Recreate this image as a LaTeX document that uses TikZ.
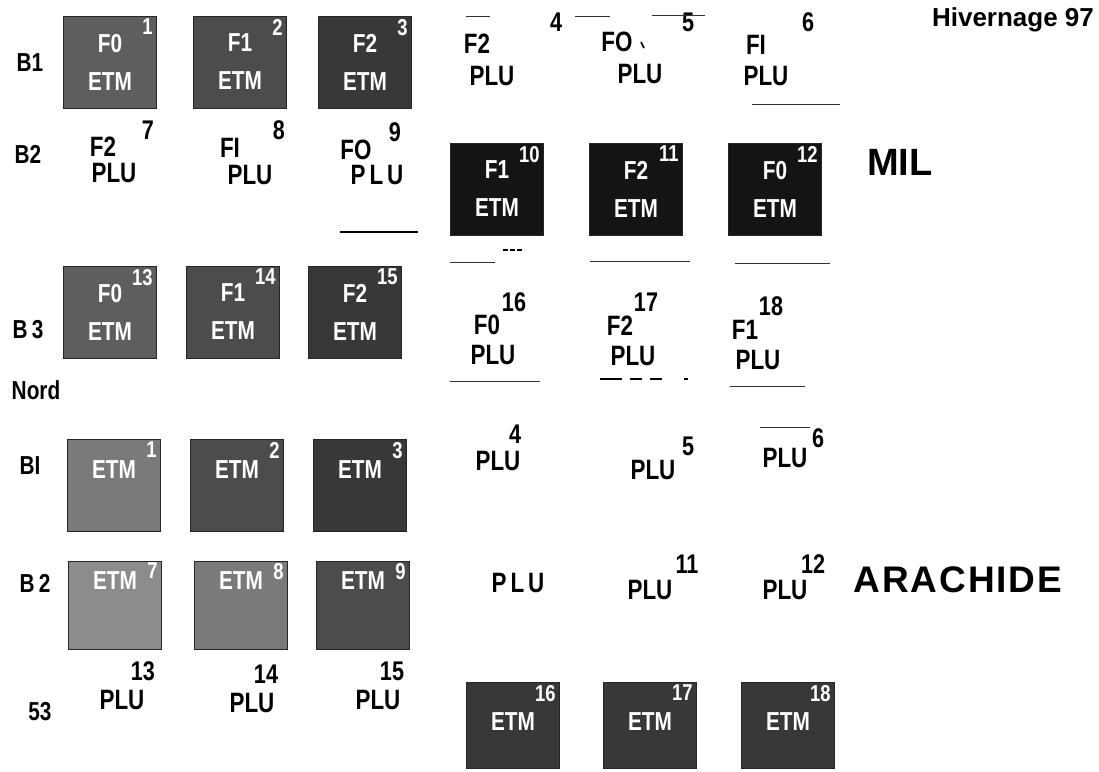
\documentclass[tikz,border=0pt]{standalone}
\usepackage{fontspec}
\setmainfont{Liberation Sans}
\newfontfamily\condfont[FakeStretch=0.8]{Liberation Sans}
\usepackage{xcolor}
\usepackage{tikz}
\usetikzlibrary{positioning}
\definecolor{etmA}{HTML}{5E5E5E}
\definecolor{etmB}{HTML}{4C4C4C}
\definecolor{etmC}{HTML}{383838}
\definecolor{etmD}{HTML}{141414}
\definecolor{etmE}{HTML}{7A7A7A}
\definecolor{etmF}{HTML}{8C8C8C}

\begin{document}
\begin{tikzpicture}[x=1pt,y=-1pt,
    etm/.style={draw=black!85,fill=#1,minimum width=93pt,minimum height=92pt,inner sep=0pt},
    etmtext/.style={text=white,font=\condfont\bfseries\fontsize{26}{26}\selectfont,align=center,inner sep=0pt},
    boxnum/.style={text=white,font=\condfont\bfseries\fontsize{23}{23}\selectfont,inner sep=0pt,anchor=north east},
    num/.style={font=\condfont\bfseries\fontsize{27}{27}\selectfont,inner sep=0pt},
    plu/.style={font=\condfont\bfseries\fontsize{28}{28}\selectfont,inner sep=0pt},
    rowlab/.style={font=\condfont\bfseries\fontsize{26}{26}\selectfont,inner sep=0pt},
    title/.style={font=\bfseries\fontsize{#1}{#1}\selectfont,inner sep=0pt},
    scanline/.style={line width=0.7pt,black!80}]
  \useasboundingbox[fill=white] (0,0) rectangle (1099,771);

  % --- MIL ---
  \node[title=26] (hiv) at (1013,20) {Hivernage 97};
  \node[title=38] (mil) at (900,162) {MIL};

  % B1
  \node[rowlab] (b1) at (30,63) {B1};
  \foreach \x/\c/\f/\n in {110/etmA/F0/1,240/etmB/F1/2,365/etmC/F2/3}{
    \node[etm=\c] (m\n) at (\x,62) {};
    \node[etmtext] (m\n t) at (m\n) {\f\\[12pt]ETM};
    \node[boxnum] (m\n n) at ([shift={(-4pt,-3pt)}]m\n.north east) {\n};
  }
  \node[plu] (m4f) at (477,44) {F2};
  \node[plu] (m4) at (492,76) {PLU};
  \node[num] (m4n) at (556,22) {4};
  \node[plu] (m5f) at (617,42) {FO};
  \node[plu] (m5) at (640,74) {PLU};
  \node[num] (m5n) at (688,22) {5};
  \draw[line width=1.6pt] (641,42) -- (644,48);
  \node[plu] (m6f) at (756,45) {FI};
  \node[plu] (m6) at (766,76) {PLU};
  \node[num] (m6n) at (808,22) {6};
  \draw[scanline] (466,16) -- (490,16);
  \draw[scanline] (575,16) -- (610,16);
  \draw[scanline] (652,15) -- (705,15);
  \draw[scanline] (752,104) -- (840,104);

  % B2
  \node[rowlab] (b2) at (28,154) {B2};
  \node[plu] (m7f) at (103,147) {F2};
  \node[plu] (m7) at (114,173) {PLU};
  \node[num] (m7n) at (148,130) {7};
  \node[plu] (m8f) at (230,148) {FI};
  \node[plu] (m8) at (250,175) {PLU};
  \node[num] (m8n) at (279,130) {8};
  \node[plu] (m9f) at (356,150) {FO};
  \node[plu] (m9) at (377,175) {P\hspace{4pt}L\hspace{4pt}U};
  \node[num] (m9n) at (395,132) {9};
  \draw[line width=1.2pt] (340,232) -- (418,232);
  \foreach \x/\f/\n in {497/F1/10,636/F2/11,775/F0/12}{
    \node[etm=etmD] (m\n) at (\x,189) {};
    \node[etmtext] (m\n t) at (m\n) {\f\\[12pt]ETM};
    \node[boxnum] (m\n n) at ([shift={(-4pt,-3pt)}]m\n.north east) {\n};
  }
  \draw[line width=2pt,dash pattern=on 5pt off 2pt] (503,250) -- (524,250);

  % B3
  \node[rowlab] (b3) at (28,330) {B\,3};
  \foreach \x/\c/\f/\n in {110/etmA/F0/13,233/etmB/F1/14,355/etmC/F2/15}{
    \node[etm=\c] (m\n) at (\x,312) {};
    \node[etmtext] (m\n t) at (m\n) {\f\\[12pt]ETM};
    \node[boxnum] (m\n n) at ([shift={(-4pt,-3pt)}]m\n.north east) {\n};
  }
  \node[plu] (m16f) at (487,325) {F0};
  \node[plu] (m16) at (493,355) {PLU};
  \node[num] (m16n) at (514,302) {16};
  \node[plu] (m17f) at (620,326) {F2};
  \node[plu] (m17) at (633,356) {PLU};
  \node[num] (m17n) at (646,302) {17};
  \node[plu] (m18f) at (745,330) {F1};
  \node[plu] (m18) at (758,360) {PLU};
  \node[num] (m18n) at (771,306) {18};
  \draw[scanline] (450,262) -- (495,262);
  \draw[scanline] (590,261) -- (690,261);
  \draw[scanline] (735,263) -- (830,263);
  \draw[scanline] (450,381) -- (540,381);
  \draw[line width=2pt,dash pattern=on 22pt off 8pt on 12pt off 8pt on 12pt] (600,379) -- (688,379);
  \draw[scanline] (730,386) -- (805,386);

  \node[rowlab] (nord) at (36,390) {Nord};

  % --- ARACHIDE ---
  \node[title=37] (ara) at (958,580) {\addfontfeature{LetterSpace=5}ARACHIDE};

  % BI
  \node[rowlab] (a1l) at (30,466) {BI};
  \foreach \x/\c/\n in {114/etmE/1,237/etmB/2,360/etmC/3}{
    \node[etm=\c] (a\n) at (\x,485) {};
    \node[etmtext] (a\n t) at ([yshift=15pt]a\n.center) {ETM};
    \node[boxnum] (a\n n) at ([shift={(-4pt,-3pt)}]a\n.north east) {\n};
  }
  \node[plu] (a4) at (498,461) {PLU};
  \node[num] (a4n) at (515,434) {4};
  \node[plu] (a5) at (653,470) {PLU};
  \node[num] (a5n) at (688,446) {5};
  \node[plu] (a6) at (785,458) {PLU};
  \node[num] (a6n) at (818,438) {6};
  \draw[scanline] (760,427) -- (810,427);

  % B2
  \node[rowlab] (a2l) at (35,583) {B\,2};
  \foreach \x/\c/\n in {115/etmF/7,241/etmE/8,363/etmB/9}{
    \node[etm=\c,minimum height=88pt] (a\n) at (\x,605) {};
    \node[etmtext] (a\n t) at ([yshift=24pt]a\n.center) {ETM};
    \node[boxnum] (a\n n) at ([shift={(-4pt,-2pt)}]a\n.north east) {\n};
  }
  \node[plu] (a10) at (518,583) {P\hspace{4pt}L\hspace{4pt}U};
  \node[plu] (a11) at (650,590) {PLU};
  \node[num] (a11n) at (687,564) {11};
  \node[plu] (a12) at (785,590) {PLU};
  \node[num] (a12n) at (813,564) {12};

  % 53
  \node[rowlab] (a3l) at (40,712) {53};
  \node[plu] (a13) at (122,700) {PLU};
  \node[num] (a13n) at (143,671) {13};
  \node[plu] (a14) at (252,703) {PLU};
  \node[num] (a14n) at (266,674) {14};
  \node[plu] (a15) at (378,700) {PLU};
  \node[num] (a15n) at (392,671) {15};
  \foreach \x/\c/\n in {513/etmC/16,650/etmC/17,788/etmC/18}{
    \node[etm=\c,minimum height=86pt] (a\n) at (\x,725) {};
    \node[etmtext] (a\n t) at ([yshift=3pt]a\n.center) {ETM};
    \node[boxnum] (a\n n) at ([shift={(-4pt,-3pt)}]a\n.north east) {\n};
  }
\end{tikzpicture}
\end{document}
